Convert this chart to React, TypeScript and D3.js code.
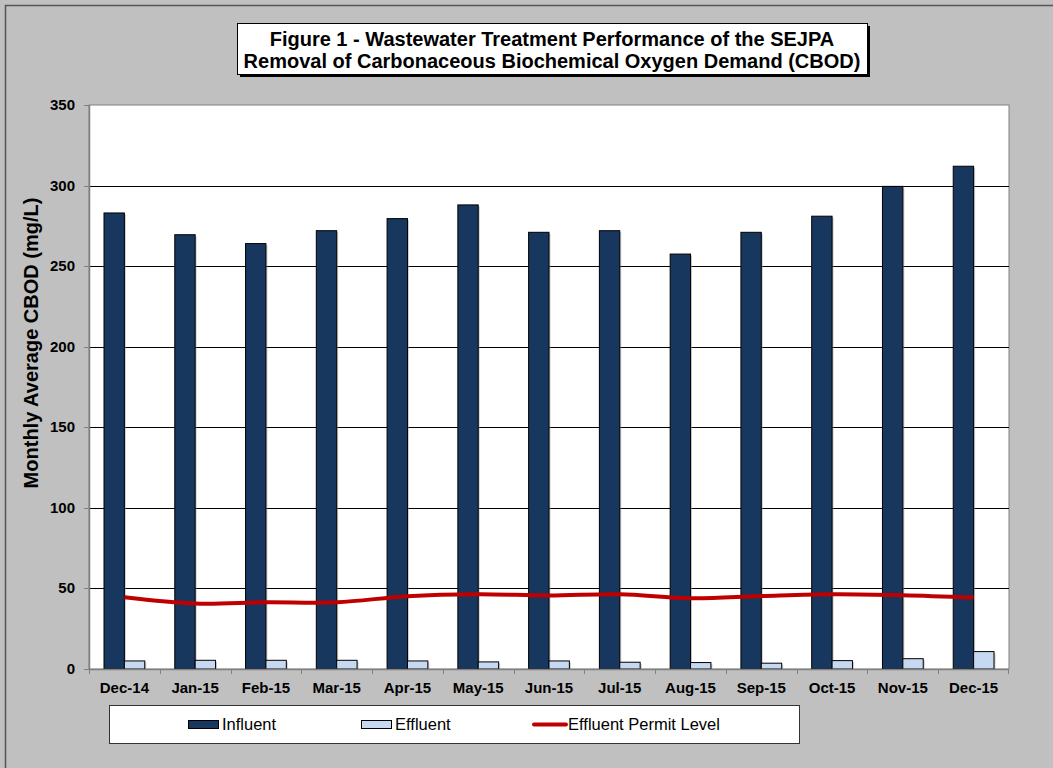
import React from 'react';
import * as d3 from 'd3';

// Chart data
const months = [
  'Dec-14', 'Jan-15', 'Feb-15', 'Mar-15', 'Apr-15', 'May-15', 'Jun-15',
  'Jul-15', 'Aug-15', 'Sep-15', 'Oct-15', 'Nov-15', 'Dec-15',
];
const influent = [283, 269.5, 264, 272, 279.5, 288, 271, 272, 257.5, 271, 281, 299.5, 312];
const effluent = [5.0, 5.4, 5.4, 5.4, 5.0, 4.4, 5.0, 4.2, 4.0, 3.6, 5.2, 6.4, 10.8];
const permitLevel = [44.5, 40.6, 41.4, 41.4, 45.2, 46.4, 45.6, 46.4, 43.9, 45.3, 46.4, 45.8, 44.3];
const yTicks = [0, 50, 100, 150, 200, 250, 300, 350];
const seriesNames = ['Influent', 'Effluent'];

const W = 1053;
const H = 768;
const margin = { left: 89, right: 1009, top: 105, bottom: 669 };

const influentColor = '#17375E';
const effluentColor = '#C6D9F1';
const permitColor = '#C00000';
const font = 'Arial, "Liberation Sans", sans-serif';

export default function App() {
  const x = d3.scaleBand<string>().domain(months).range([margin.left, margin.right]).padding(0);
  const bw = x.bandwidth();
  const sub = d3.scaleBand<string>()
    .domain(seriesNames)
    .range([bw * 0.212, bw * 0.788])
    .padding(0);
  const y = d3.scaleLinear().domain([0, 350]).range([margin.bottom, margin.top]);

  const line = d3.line<number>()
    .x((_, i) => (x(months[i]) as number) + bw / 2)
    .y(d => y(d))
    .curve(d3.curveCatmullRom.alpha(0.5));

  const values = [influent, effluent];
  const colors = [influentColor, effluentColor];

  return (
    <svg width={W} height={H} style={{ position: 'absolute', left: 0, top: 0, display: 'block' }}>
      {/* background */}
      <rect x={0} y={0} width={W} height={H} fill="#C0C0C0" />
      <rect x={5.5} y={5.5} width={W + 20} height={H + 20} fill="none" stroke="#555" strokeWidth={1.5} />

      {/* title box */}
      <rect x={240} y={26} width={630} height={51} fill="#000" />
      <rect x={237.5} y={23.5} width={630} height={51} fill="#fff" stroke="#000" strokeWidth={1} />
      <text x={552} y={46} textAnchor="middle" fontFamily={font} fontWeight="bold" fontSize={20}>
        Figure 1 - Wastewater Treatment Performance of the SEJPA
      </text>
      <text x={552} y={68} textAnchor="middle" fontFamily={font} fontWeight="bold" fontSize={20}>
        Removal of Carbonaceous Biochemical Oxygen Demand (CBOD)
      </text>

      {/* plot area */}
      <rect x={margin.left} y={margin.top} width={margin.right - margin.left}
        height={margin.bottom - margin.top} fill="#fff" stroke="#808080" strokeWidth={1} />

      {/* gridlines */}
      {yTicks.filter(t => t > 0 && t < 350).map(t => (
        <line key={t} x1={margin.left} x2={margin.right} y1={Math.round(y(t)) + 0.5} y2={Math.round(y(t)) + 0.5}
          stroke="#000" strokeWidth={1} />
      ))}

      {/* bars */}
      {months.map((m, i) => (
        <g key={m}>
          {values.map((v, s) => {
            const bx = (x(m) as number) + (sub(seriesNames[s]) as number);
            const by = y(v[i]);
            const bh = y(0) - by;
            return (
              <g key={s}>
                <rect x={bx + 1.5} y={by + 1.5} width={sub.bandwidth()} height={bh - 1.5} fill="#999" opacity={0.5} />
                <rect x={bx} y={by} width={sub.bandwidth()} height={bh}
                  fill={colors[s]} stroke="#000" strokeWidth={1} />
              </g>
            );
          })}
        </g>
      ))}

      {/* permit line */}
      <path d={line(permitLevel) || ''} fill="none" stroke={permitColor} strokeWidth={4} />

      {/* y axis */}
      <line x1={margin.left + 0.5} x2={margin.left + 0.5} y1={margin.top} y2={margin.bottom} stroke="#808080" strokeWidth={1.5} />
      {yTicks.map(t => (
        <g key={t}>
          <line x1={margin.left - 5} x2={margin.left} y1={Math.round(y(t)) + 0.5} y2={Math.round(y(t)) + 0.5}
            stroke="#808080" strokeWidth={1} />
          <text x={75} y={y(t) + 5} textAnchor="end" fontFamily={font} fontWeight="bold" fontSize={15}>
            {t}
          </text>
        </g>
      ))}

      {/* x axis */}
      <line x1={margin.left} x2={margin.right} y1={margin.bottom + 0.5} y2={margin.bottom + 0.5} stroke="#808080" strokeWidth={1.5} />
      {months.map(m => (
        <line key={m} x1={Math.round(x(m) as number) + 0.5} x2={Math.round(x(m) as number) + 0.5}
          y1={margin.bottom} y2={margin.bottom + 5} stroke="#808080" strokeWidth={1} />
      ))}
      <line x1={margin.right - 0.5} x2={margin.right - 0.5} y1={margin.bottom} y2={margin.bottom + 5} stroke="#808080" strokeWidth={1} />
      {months.map(m => (
        <text key={m} x={(x(m) as number) + bw / 2} y={693} textAnchor="middle"
          fontFamily={font} fontWeight="bold" fontSize={15}>
          {m}
        </text>
      ))}

      {/* y axis title */}
      <text transform="translate(38,343) rotate(-90)" textAnchor="middle"
        fontFamily={font} fontWeight="bold" fontSize={20}>
        Monthly Average CBOD (mg/L)
      </text>

      {/* legend */}
      <rect x={109.5} y={705.5} width={690} height={38} fill="#fff" stroke="#333" strokeWidth={1} />
      <rect x={188.5} y={720.5} width={30} height={8} fill={influentColor} stroke="#000" />
      <text x={222} y={730} fontFamily={font} fontSize={16.5}>Influent</text>
      <rect x={361.5} y={720.5} width={30} height={8} fill={effluentColor} stroke="#000" />
      <text x={395} y={730} fontFamily={font} fontSize={16.5}>Effluent</text>
      <line x1={534} x2={566} y1={724.5} y2={724.5} stroke={permitColor} strokeWidth={4} strokeLinecap="round" />
      <text x={568} y={730} fontFamily={font} fontSize={16.5}>Effluent Permit Level</text>
    </svg>
  );
}
